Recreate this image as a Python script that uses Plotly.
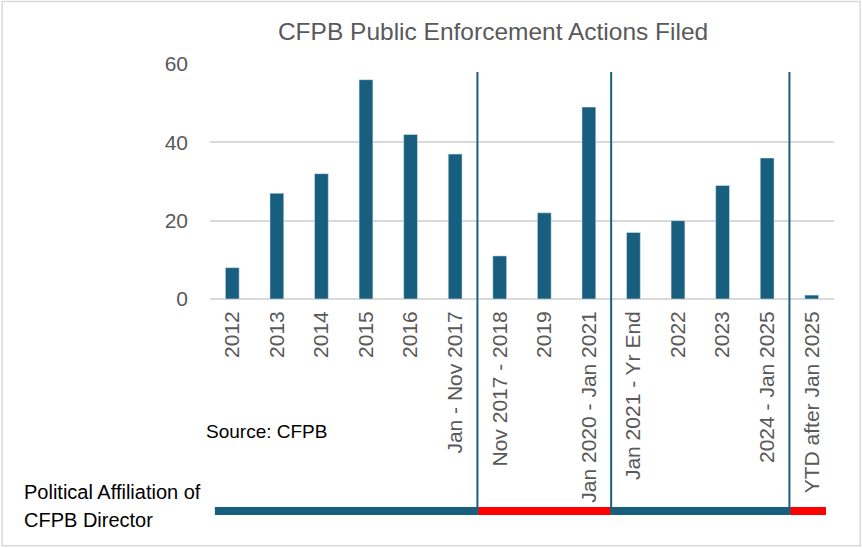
import plotly.graph_objects as go

categories = ["2012", "2013", "2014", "2015", "2016", "Jan - Nov 2017",
              "Nov 2017 - 2018", "2019", "Jan 2020 - Jan 2021",
              "Jan 2021 - Yr End", "2022", "2023", "2024 - Jan 2025",
              "YTD after Jan 2025"]
actions = [8, 27, 32, 56, 42, 37, 11, 22, 49, 17, 20, 29, 36, 1]
y_ticks = [0, 20, 40, 60]
# director affiliation periods: (first category index, last category index, colour)
periods = [(0, 5, "#185F7F"), (6, 8, "#FF0000"), (9, 12, "#185F7F"), (13, 13, "#FF0000")]

BAR = "#185F7F"
GRAY = "#595959"
SANS = "Liberation Sans, Arial, sans-serif"

fig = go.Figure(go.Bar(x=categories, y=actions, marker_color=BAR, width=0.31))

shapes = []
band_y = -0.902
for a, b, col in periods:
    x0 = a - 0.5 if a > 0 else -0.39
    x1 = b + 0.5 if b < len(categories) - 1 else 13.32
    shapes.append(dict(type="line", xref="x", yref="paper", x0=x0, x1=x1,
                       y0=band_y, y1=band_y, line=dict(color=col, width=8)))
for a, b, col in periods[1:]:
    shapes.append(dict(type="line", xref="x", yref="paper", x0=a - 0.5, x1=a - 0.5,
                       y0=0.966, y1=-0.915, line=dict(color=BAR, width=2)))
shapes.append(dict(type="rect", xref="paper", yref="paper", x0=-0.333, x1=1.042,
                   y0=-1.05, y1=1.266, line=dict(color="#D9D9D9", width=1.5)))

annotations = [
    dict(text="Source: CFPB", xref="paper", yref="paper", x=-0.01, y=-0.562,
         xanchor="left", yanchor="middle", showarrow=False,
         font=dict(family=SANS, size=19, color="black")),
    dict(text="Political Affiliation of", xref="paper", yref="paper", x=-0.301, y=-0.821,
         xanchor="left", yanchor="middle", showarrow=False,
         font=dict(family=SANS, size=20, color="black")),
    dict(text="CFPB Director", xref="paper", yref="paper", x=-0.301, y=-0.94,
         xanchor="left", yanchor="middle", showarrow=False,
         font=dict(family=SANS, size=20, color="black")),
]

fig.update_layout(
    width=862, height=548,
    margin=dict(l=210, r=28, t=64, b=249),
    paper_bgcolor="white", plot_bgcolor="white",
    showlegend=False,
    title=dict(text="CFPB Public Enforcement Actions Filed", xref="container", yref="container",
               x=0.572, y=0.942, xanchor="center", yanchor="middle",
               font=dict(family=SANS, size=24.5, color=GRAY)),
    xaxis=dict(tickangle=-90, tickfont=dict(family=SANS, size=21, color=GRAY),
               showline=False, showgrid=False, ticks="", ticklabelstandoff=7),
    yaxis=dict(range=[0, 60], tickvals=y_ticks, showgrid=True, gridcolor="#D9D9D9",
               gridwidth=2, zeroline=True, zerolinecolor="#D9D9D9", zerolinewidth=2,
               tickfont=dict(family=SANS, size=21, color=GRAY), ticklabelstandoff=21),
    shapes=shapes,
    annotations=annotations,
    bargap=0.69,
)

fig.write_html("out.html", config={"displayModeBar": False},
               post_script="document.body.style.margin='0';")
